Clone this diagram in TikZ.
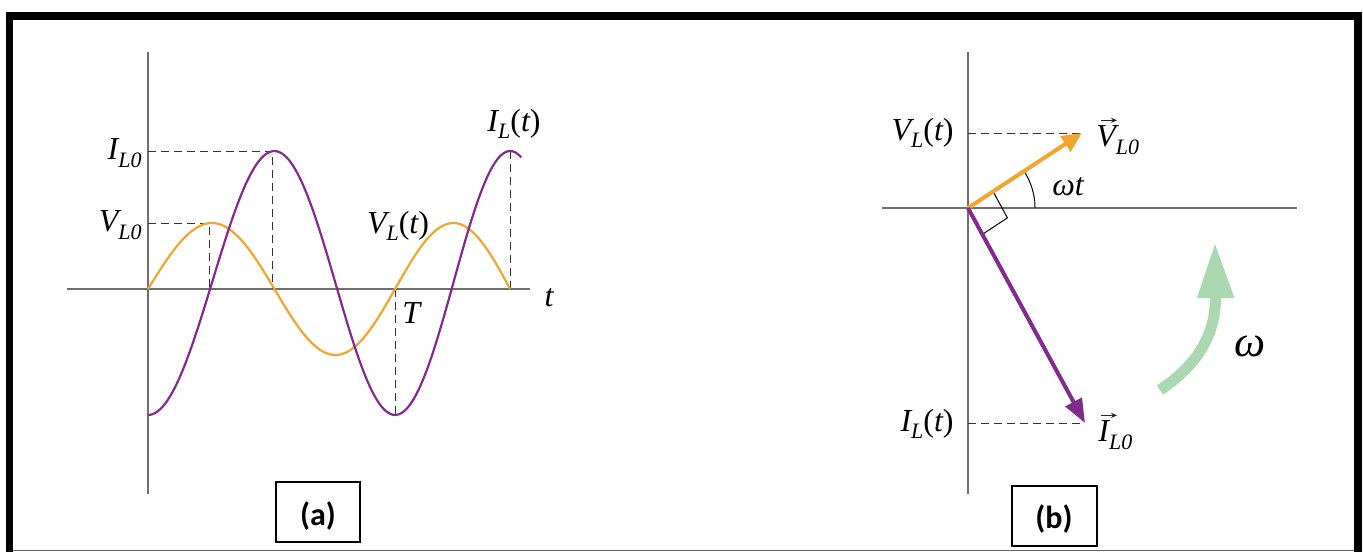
\documentclass[tikz,border=0pt]{standalone}
\usepackage{fontspec}
\newfontfamily\tms{Liberation Serif}
\newfontfamily\clb{Carlito}
\usetikzlibrary{arrows.meta,calc}
\definecolor{vorange}{HTML}{F2A62E}
\definecolor{ipurple}{HTML}{812C8C}
\definecolor{wgreen}{HTML}{A9D8B1}
\definecolor{axgray}{HTML}{707070}
\newcommand\sbs[1]{\raisebox{-0.5ex}{\fontsize{11}{11}\selectfont\itshape #1}}
\begin{document}
\begin{tikzpicture}[x=0.5pt,y=-0.5pt,
  axisline/.style={draw=axgray,line width=0.7pt},
  guide/.style={draw=black!80,line width=0.5pt,dash pattern=on 4pt off 2.5pt},
  lab/.style={font=\tms\itshape\fontsize{16}{18}\selectfont,inner sep=1pt},
  vecarrow/.style={draw=black!85,line width=0.5pt,-{Stealth[length=3pt,width=2.6pt]}},
  tagbox/.style={draw=black,line width=0.6pt},
  tagtext/.style={font=\clb\bfseries\fontsize{16}{18}\selectfont,inner sep=0pt}]
\useasboundingbox (0,0) rectangle (1363,552);
% frame
\fill[black] (6,12) rectangle (1362,20);
\fill[black] (6,12) rectangle (13,552);
\fill[black] (1354,12) rectangle (1362,552);
\draw[black!60,line width=0.8pt] (13,550.5) -- (1354,550.5);

% ---------------- panel (a) ----------------
\coordinate (aO) at (148,289);
\coordinate (aTop) at (148,52);
\coordinate (aBot) at (148,494);
\coordinate (aLeft) at (67,289);
\coordinate (aRight) at (530,289);
\draw[axisline] (aTop) -- (aBot);
\draw[axisline] (aLeft) -- (aRight);
% guides
\coordinate (iL0) at (148,151);
\coordinate (iPk1) at (272,151);
\coordinate (iPk1b) at (272,289);
\coordinate (vL0) at (148,223);
\coordinate (vPk1) at (209,223);
\coordinate (vPk1b) at (209,289);
\coordinate (Tax) at (395,289);
\coordinate (Tmin) at (395,415);
\coordinate (iPk2) at (510,151);
\coordinate (iPk2b) at (510,289);
\draw[guide] (iL0) -- (iPk1) -- (iPk1b);
\draw[guide] (vL0) -- (vPk1) -- (vPk1b);
\draw[guide] (Tax) -- (Tmin);
\draw[guide] (iPk2) -- (iPk2b);
% curves
\draw[vorange,line width=1.1pt] plot[domain=0:3,samples=120,smooth]
  ({148+129.2*\x-2.83*\x*\x},{289-66*sin(180*\x)});
\draw[ipurple,line width=1.1pt] plot[domain=0:3.1,samples=120,smooth]
  ({148+129.2*\x-2.83*\x*\x},{283+132*cos(180*\x)});
% labels
\node[lab,anchor=east] (lIL0) at (144,153) {I\sbs{L0}};
\node[lab,anchor=east] (lVL0) at (144,225) {V\sbs{L0}};
\node[lab] (lVLt) at (398,226) {V\sbs{L}\upshape(\itshape t\upshape)};
\node[lab] (lILt) at (514,124) {I\sbs{L}\upshape(\itshape t\upshape)};
\node[lab,anchor=west] (lT) at (400,313) {T};
\node[lab] (lt) at (549,298) {t};
% tag (a)
\draw[tagbox] (276,482) rectangle (360,542);
\node[tagtext] (ta) at (318,516) {(a)};

% ---------------- panel (b) ----------------
\coordinate (O) at (968,208);
\coordinate (bTop) at (968,52);
\coordinate (bBot) at (968,494);
\coordinate (bLeft) at (882,208);
\coordinate (bRight) at (1297,208);
\draw[axisline] (bTop) -- (bBot);
\draw[axisline] (bLeft) -- (bRight);
\coordinate (Vtip) at (1082,133);
\coordinate (Itip) at (1085,423);
\coordinate (Vax) at (968,133);
\coordinate (Iax) at (968,423);
\draw[guide] (Vax) -- (Vtip);
\draw[guide] (Iax) -- (Itip);
% right angle marker
\coordinate (ra1) at ($(O)!15pt!(Vtip)$);
\coordinate (ra2) at ($(O)!15pt!(Itip)$);
\draw[black,line width=0.5pt] (ra1) -- ($(ra1)+(ra2)-(O)$) -- (ra2);
% angle arc
\draw[black,line width=0.5pt] plot[domain=0:33,samples=20] ({968+67*cos(\x)},{208-67*sin(\x)});
% vectors
\draw[vorange,line width=2pt,-{Triangle[length=10pt,width=9pt]}] (O) -- (Vtip);
\draw[ipurple,line width=2pt,-{Triangle[length=12pt,width=9pt]}] (O) -- (Itip);
% rotation arrow
\draw[wgreen,line width=5.5pt,-{Triangle[length=28pt,width=17pt]}]
  (1160,390) .. controls (1196,366) and (1216,336) .. (1215,242);
% labels
\node[lab,anchor=east] (lVLtb) at (956,133) {V\sbs{L}\upshape(\itshape t\upshape)};
\node[lab,anchor=east] (lILtb) at (956,424) {I\sbs{L}\upshape(\itshape t\upshape)};
\node[lab,anchor=west] (lVvec) at (1094,140) {V\sbs{L0}};
\node[lab,anchor=west] (lIvec) at (1096,435) {I\sbs{L0}};
\draw[vecarrow] ($(lVvec.north west)+(7,-3)$) -- ++(16,0);
\draw[vecarrow] ($(lIvec.north west)+(5,-3)$) -- ++(16,0);
\node[lab] (lwt) at (1068,187) {ωt};
\node[lab,font=\tms\itshape\fontsize{22}{24}\selectfont] (lw) at (1250,346) {ω};
% tag (b)
\draw[tagbox] (1012,486) rectangle (1097,546);
\node[tagtext] (tb) at (1054,519) {(b)};
\end{tikzpicture}
\end{document}
